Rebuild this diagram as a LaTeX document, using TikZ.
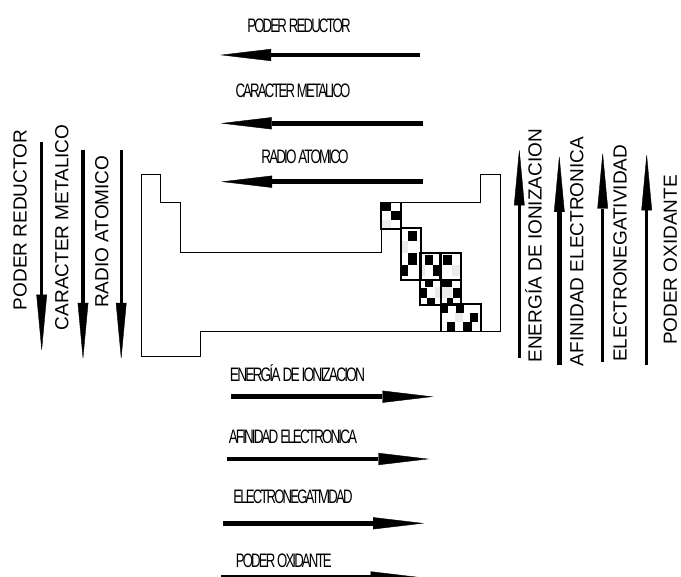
\documentclass[tikz,border=0pt]{standalone}
\usepackage{graphicx}
\usepackage{fontspec}
\setmainfont{Liberation Sans}
\newfontfamily\tightfont[LetterSpace=-14]{Liberation Sans}
\usetikzlibrary{arrows.meta}
\begin{document}
\begin{tikzpicture}[x=1pt,y=-1pt,
  htxt/.style={anchor=base,inner sep=0pt,font=\tightfont\fontsize{19.5}{20}\selectfont},
  vtxt/.style={anchor=base,inner sep=0pt,rotate=90,font=\fontsize{19}{20}\selectfont},
  harr/.style={line width=4.6pt,-{Triangle[length=51pt,width=12pt,line width=0.4pt]}},
  varr/.style={line width=3.4pt,-{Triangle[length=57pt,width=10.5pt,line width=0.4pt]}},
  tbl/.style={line width=1pt,line join=miter},
  blk/.style={line width=1.5pt},
  cell/.style={fill=black},
  gcell/.style={fill=black!8}]
\useasboundingbox (0,0) rectangle (681,577);
\clip (0,0) rectangle (681,577);

% ---------- table outline ----------
\draw[tbl] (141,175) -- (160.7,175) -- (160.7,202.7) -- (180.7,202.7) -- (180.7,253)
  -- (381,253) -- (381,202.7) -- (480.7,202.7) -- (480.7,175) -- (500.7,175)
  -- (500.7,331.7) -- (200.7,331.7) -- (200.7,356.7) -- (141,356.7) -- cycle;

% ---------- checker blocks ----------
% B1
\fill[cell] (381,202.3) rectangle (391,210.7);
\fill[cell] (391,210.7) rectangle (400.5,220);
\fill[gcell] (381,220) rectangle (391,228.5);
% B2
\fill[cell] (408.3,231.5) rectangle (417,241.5);
\fill[cell] (408.3,253.3) rectangle (417,265);
\fill[cell] (401,265) rectangle (408.3,276.5);
\fill[gcell] (401,241.5) rectangle (408.3,253.3);
% B3 / B4
\fill[cell] (425,254.7) rectangle (433.3,264.7);
\fill[cell] (433.3,264.7) rectangle (441,276.3);
\fill[cell] (443.3,254.7) rectangle (451.7,264.7);
\fill[gcell] (451.7,264.7) rectangle (460,276.3);
\fill[gcell] (420,264.7) rectangle (425,276.3);
% B5
\fill[cell] (425,279) rectangle (433,287.5);
\fill[cell] (441.7,279) rectangle (451.7,287);
\fill[cell] (420,288) rectangle (426.7,298);
\fill[cell] (453,288) rectangle (460,298);
\fill[cell] (426.7,298) rectangle (435,304.7);
\fill[cell] (446.7,298) rectangle (453.3,304.7);
\fill[gcell] (435,287.5) rectangle (451.7,298);
% B6
\fill[cell] (441,305) rectangle (448.3,313);
\fill[cell] (456,305) rectangle (463.5,313);
\fill[cell] (470,313) rectangle (478.3,322);
\fill[cell] (446.7,322) rectangle (455,331.3);
\fill[cell] (463,322) rectangle (471.5,331.3);
\fill[gcell] (455,313) rectangle (463,322);
% block borders
\draw[blk] (381,202.3) rectangle (401,229);
\draw[blk] (401,228) rectangle (421,280);
\draw[blk] (420,253) rectangle (441,305);
\draw[blk] (440,253) rectangle (461,280);
\draw[blk] (420,280) rectangle (461,305);
\draw[blk] (441,304) rectangle (481,331.5);

% ---------- top horizontal arrows ----------
\node[htxt] (t1) at (299,32.3) {\scalebox{0.68}[1]{PODER REDUCTOR}};
\node[htxt] (t2) at (293,97.3) {\scalebox{0.676}[1]{CARACTER METALICO}};
\node[htxt] (t3) at (305,164) {\scalebox{0.69}[1]{RADIO ATOMICO}};
\coordinate (a1s) at (420,55);    \coordinate (a1e) at (220,55);
\coordinate (a2s) at (422.7,123.3); \coordinate (a2e) at (220.7,123.3);
\coordinate (a3s) at (423,181.7); \coordinate (a3e) at (221,181.7);
\draw[harr] (a1s) -- (a1e);
\draw[harr] (a2s) -- (a2e);
\draw[harr] (a3s) -- (a3e);

% ---------- bottom horizontal arrows ----------
\node[htxt] (b1) at (297.5,382) {\scalebox{0.71}[1]{ENERGÍA DE IONIZACION}};
\node[htxt] (b2) at (293,444) {\scalebox{0.69}[1]{AFINIDAD ELECTRONICA}};
\node[htxt] (b3) at (293,504) {\scalebox{0.675}[1]{ELECTRONEGATIVIDAD}};
\node[htxt] (b4) at (283.7,567.3) {\scalebox{0.676}[1]{PODER OXIDANTE}};
\coordinate (c1s) at (230.7,396.7); \coordinate (c1e) at (433.3,396.7);
\coordinate (c2s) at (226.7,459);   \coordinate (c2e) at (429.3,459);
\coordinate (c3s) at (223.3,523.3); \coordinate (c3e) at (424,523.3);
\coordinate (c4s) at (220.7,577.5); \coordinate (c4e) at (421.7,577.5);
\draw[harr] (c1s) -- (c1e);
\draw[harr] (c2s) -- (c2e);
\draw[harr] (c3s) -- (c3e);
\draw[harr] (c4s) -- (c4e);

% ---------- left vertical arrows ----------
\node[vtxt] (l1) at (26.7,220) {PODER REDUCTOR};
\node[vtxt] (l2) at (68.3,227.3) {CARACTER METALICO};
\node[vtxt] (l3) at (108.3,231.7) {RADIO ATOMICO};
\coordinate (d1s) at (41.7,141.7); \coordinate (d1e) at (41.7,351.7);
\coordinate (d2s) at (83,150);     \coordinate (d2e) at (83,360);
\coordinate (d3s) at (121.2,150);  \coordinate (d3e) at (121.2,360);
\draw[varr] (d1s) -- (d1e);
\draw[varr,line width=4.4pt] (d2s) -- (d2e);
\draw[varr] (d3s) -- (d3e);

% ---------- right vertical arrows ----------
\node[vtxt] (r1) at (541.7,245.8) {ENERGÍA DE IONIZACION};
\node[vtxt] (r2) at (583.3,251.5) {AFINIDAD ELECTRONICA};
\node[vtxt] (r3) at (626.7,253.3) {ELECTRONEGATIVIDAD};
\node[vtxt] (r4) at (676.8,260) {PODER OXIDANTE};
\coordinate (u1s) at (519.3,358);   \coordinate (u1e) at (519.3,148.3);
\coordinate (u2s) at (559.3,365);   \coordinate (u2e) at (559.3,155);
\coordinate (u3s) at (602.7,361.7); \coordinate (u3e) at (602.7,151.7);
\coordinate (u4s) at (646.7,365);   \coordinate (u4e) at (646.7,153.3);
\draw[varr,line width=2.6pt] (u1s) -- (u1e);
\draw[varr,line width=4.4pt] (u2s) -- (u2e);
\draw[varr] (u3s) -- (u3e);
\draw[varr] (u4s) -- (u4e);
\end{tikzpicture}
\end{document}
